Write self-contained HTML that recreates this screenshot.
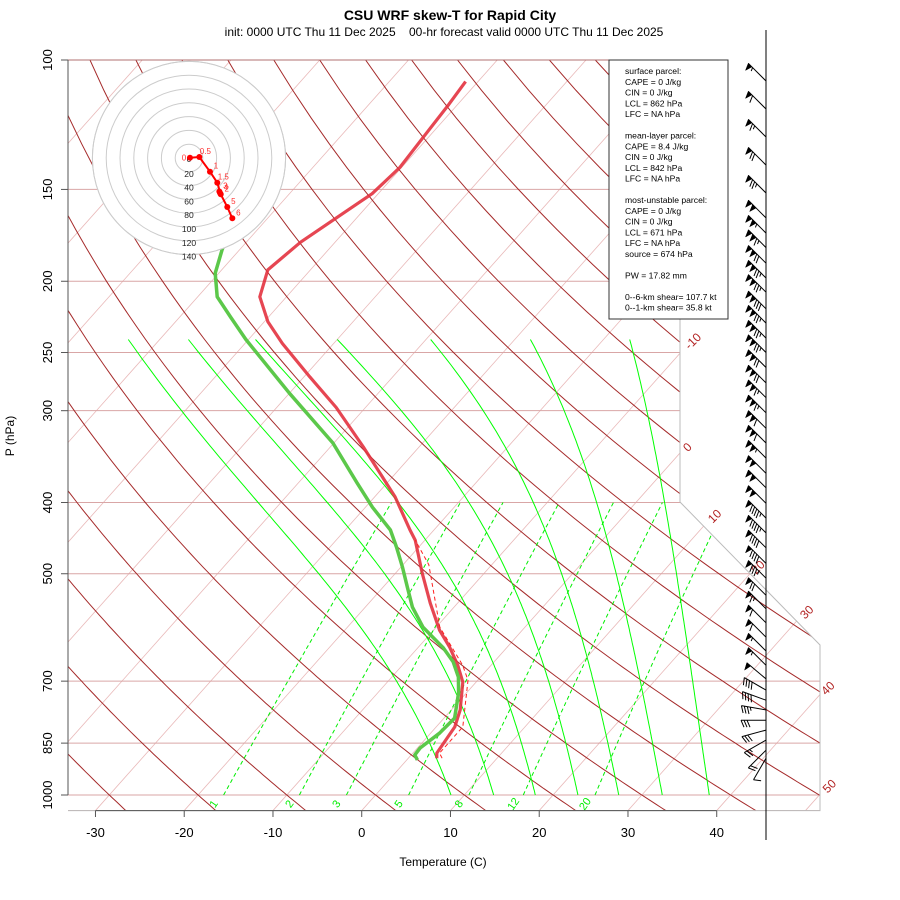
<!DOCTYPE html>
<html><head><meta charset="utf-8"><style>
html,body{margin:0;padding:0;background:#fff;}
svg{display:block;font-family:"Liberation Sans",sans-serif;}
</style></head><body>
<svg id="chart" width="900" height="900" viewBox="0 0 900 900" xmlns="http://www.w3.org/2000/svg">
<defs><clipPath id="frameClip"><polygon points="68,60 680,60 680,502 820,645 820,810.6 68,810.6"/></clipPath></defs>
<text x="450" y="20" text-anchor="middle" font-size="14" font-weight="bold">CSU WRF skew-T for Rapid City</text>
<text x="444" y="36" text-anchor="middle" font-size="12" xml:space="preserve">init: 0000 UTC Thu 11 Dec 2025    00-hr forecast valid 0000 UTC Thu 11 Dec 2025</text>
<text transform="translate(14,436) rotate(-90)" text-anchor="middle" font-size="12">P (hPa)</text>
<text x="443" y="866" text-anchor="middle" font-size="12">Temperature (C)</text>
<g id="bg" clip-path="url(#frameClip)"></g>
<g id="frame"></g>
<g id="axes"></g>
<g id="profiles" clip-path="url(#frameClip)"></g>
<g id="hodo"></g>
<g id="barbs"></g>
<g id="info"></g>
</svg>
<script>
const tempP=[891,877,808,766,702,666,629,597,548,499,450,436,393,336,297,270,243,227,210,193,177,164,152,140,127,115,107];
const tempT=[3.2,2.7,2.1,1.0,-1.5,-3.75,-6.5,-9.3,-13.1,-17.0,-21.1,-22.7,-27.7,-36.3,-43.3,-49.3,-55.8,-59.6,-63.0,-64.8,-63.9,-62.3,-60.7,-60.2,-60.6,-61.0,-61.4];
const dewP=[896,882,863,824,786,726,691,659,631,591,555,521,490,460,436,406,376,332,284,240,224,210,195,181,170];
const dewT=[1.2,0.4,0.3,1.0,1.2,-0.9,-2.5,-4.6,-7.1,-11.5,-14.7,-17.3,-19.8,-22.5,-24.9,-29.2,-33.4,-40.1,-50.0,-60.3,-64.2,-67.8,-70.4,-72.0,-73.0];
const parcelP=[891,877,808,698,666,591,486,450];
const parcelT=[3.8,3.0,3.0,-1.1,-3.2,-9.6,-17.1,-21.1];
const hodoLabels=["0","0.5","1","1.5","2","3","4","5","6"];
const hodoU=[1.4,15,30.4,41,46,44,45,55.5,62.8];
const hodoV=[0.4,1.4,-19.9,-35.8,-52.6,-48.6,-50.7,-71,-87.4];
const hodoRings=[20,40,60,80,100,120,140];
const barbP=[106.8,116.6,127.3,139,151.7,164,172,180,189,198,207,218,228,239,250,262,275,288,302,317,332,348,365,382,401,420,440,461,484,507,535,558,583,610,637,666,695,720,743,766,791,816,842,869,891];
const barbSpd=[55,60,65,70,75,100,105,115,120,125,125,130,125,125,125,120,120,115,115,110,110,105,100,100,100,95,95,90,90,85,70,65,60,60,55,55,50,40,40,35,30,30,25,20,10];
const barbDir=[315,315,315,315,315,315,315,315,315,315,315,315,315,315,315,315,315,315,315,315,315,315,315,315,315,315,315,315,315,315,315,315,315,315,315,315,310,300,290,280,270,255,240,225,210];
const pLevels=[100,150,200,250,300,400,500,700,850,1000];
const xTicks=[-30,-20,-10,0,10,20,30,40];
const isoLabelT=[-10,0,10,20,30,40,50];
const mixW=[1,2,3,5,8,12,20];
const moistT0=[8.5,13.3,18,22.8,27.4,32.3,37.6];
const moistFix=[-7,-21,-42,-69,-93,-113,-120];
const infoLines=["surface parcel:","CAPE = 0 J/kg","CIN = 0 J/kg","LCL = 862 hPa","LFC = NA hPa","","mean-layer parcel:","CAPE = 8.4 J/kg","CIN = 0 J/kg","LCL = 842 hPa","LFC = NA hPa","","most-unstable parcel:","CAPE = 0 J/kg","CIN = 0 J/kg","LCL = 671 hPa","LFC = NA hPa","source = 674 hPa","","PW =  17.82 mm","","0--6-km shear= 107.7 kt","0--1-km shear= 35.8 kt"];

const NS="http://www.w3.org/2000/svg";
function Y(p){return 60+735*Math.log10(p/100);}
function X(T,p){return 361.7+8.875*T+0.89*(810.6-Y(p));}
function mk(parent,tag,attrs){const e=document.createElementNS(NS,tag);for(const k in attrs)e.setAttribute(k,attrs[k]);parent.appendChild(e);return e;}
function pathFrom(pts){return pts.map((q,i)=>(i?'L':'M')+q[0].toFixed(1)+','+q[1].toFixed(1)).join('');}
const bgG=document.getElementById('bg');
for(let T=-110;T<=50;T+=10){
  const e=mk(bgG,'line',{x1:X(T,1050),y1:Y(1050),x2:X(T,100),y2:Y(100),stroke:'#e9b9b9','stroke-width':0.8});
  
  
}
pLevels.concat([1050]).forEach(p=>{
  const e=mk(bgG,'line',{x1:68,y1:Y(p),x2:820,y2:Y(p),stroke:'#d9a6a6','stroke-width':1});
  
  
});
for(let th=-30;th<=170;th+=10){
  const pts=[];for(let p=1050;p>=100;p-=10){pts.push([X((th+273.15)*Math.pow(p/1000,0.286)-273.15,p),Y(p)]);}
  const e=mk(bgG,'path',{d:pathFrom(pts),fill:'none',stroke:'#a52a2a','stroke-width':1});
  
  
}
function es(Tc){return 6.112*Math.exp(17.67*Tc/(Tc+243.5));}
moistT0.forEach((t0,k)=>{
  let T=t0+273.15;const pts=[];
  for(let p=1000;p>=240;p-=5){
    const y=Y(p);
    pts.push([X(T-273.15,p)+moistFix[k]*(795-y)/455,y]);
    const e0=es(T-273.15),rs=0.622*e0/(p-e0);
    const b=(287*T+2.5e6*rs)/(1005+(2.5e6*2.5e6*rs*0.622)/(287*T*T));
    T-=b/p*5;
  }
  const e=mk(bgG,'path',{d:pathFrom(pts),fill:'none',stroke:'#00ff00','stroke-width':1});
  
  
});
function tdFromW(w,p){const e=w*p/(622+w);const l=Math.log(e/6.112);return 243.5*l/(17.67-l);}
mixW.forEach(w=>{
  const pts=[];for(let p=1000;p>=400;p-=10)pts.push([X(tdFromW(w,p),p),Y(p)]);
  const e=mk(bgG,'path',{d:pathFrom(pts),fill:'none',stroke:'#00ee00','stroke-width':1,'stroke-dasharray':'4,3'});
  
  
});
const frG=document.getElementById('frame');
const fe=mk(frG,'polyline',{points:'680,60 680,502 820,645 820,810.6 68,810.6',fill:'none',stroke:'#bbbbbb','stroke-width':1});


const topLine=mk(frG,'line',{x1:68,y1:60,x2:680,y2:60,stroke:'#b07070','stroke-width':1});


mixW.forEach(w=>{
  const x=X(tdFromW(w,1000),1000)-7;
  const t=mk(frG,'text',{x:0,y:0,transform:`translate(${x.toFixed(1)},806) rotate(-55)`,'text-anchor':'middle','font-size':11,fill:'#00ee00'});
  t.textContent=w;
  
  
});
const labY={"-10":340,"0":446,"10":515,"20":566,"30":611,"40":687,"50":785};
isoLabelT.forEach(T=>{
  const yy=labY[T];const p=100*Math.pow(10,(yy-60)/735);const x=X(T,p)+4;
  const t=mk(frG,'text',{x:0,y:0,transform:`translate(${x.toFixed(1)},${yy+4}) rotate(-45)`,'text-anchor':'middle','font-size':12,fill:'#b22222'});
  t.textContent=T;
  
  
});
const axG=document.getElementById('axes');
const la=mk(axG,'line',{x1:68,y1:60,x2:68,y2:795,stroke:'#555','stroke-width':1});


pLevels.forEach(p=>{
  const y=Y(p);
  const tk=mk(axG,'line',{x1:61,y1:y,x2:68,y2:y,stroke:'#555'});
  
  
  const t=mk(axG,'text',{x:0,y:0,transform:`translate(52,${y.toFixed(1)}) rotate(-90)`,'text-anchor':'middle','font-size':13});
  t.textContent=p;
  
  
});
const ba=mk(axG,'line',{x1:X(xTicks[0],1050),y1:810.6,x2:X(xTicks[xTicks.length-1],1050),y2:810.6,stroke:'#555'});


xTicks.forEach(T=>{
  const x=X(T,1050);
  const tk=mk(axG,'line',{x1:x,y1:810.6,x2:x,y2:817,stroke:'#555'});
  
  
  const t=mk(axG,'text',{x:x,y:837,'text-anchor':'middle','font-size':13});
  t.textContent=T;
  
  
});
const prG=document.getElementById('profiles');
const tl=mk(prG,'path',{d:pathFrom(tempP.map((p,i)=>[X(tempT[i],p),Y(p)])),fill:'none',stroke:'#e3323f','stroke-width':3.2,'stroke-linejoin':'round','stroke-opacity':0.9});


const dl=mk(prG,'path',{d:pathFrom(dewP.map((p,i)=>[X(dewT[i],p),Y(p)])),fill:'none',stroke:'#5cc84a','stroke-width':3.5,'stroke-linejoin':'round'});


const pl=mk(prG,'path',{d:pathFrom(parcelP.map((p,i)=>[X(parcelT[i],p),Y(p)])),fill:'none',stroke:'#ff2020','stroke-width':1,'stroke-dasharray':'4,3'});


const hgG=document.getElementById('hodo');
const hcx=189,hcy=158,hs=0.69;
const bgc=mk(hgG,'circle',{cx:hcx,cy:hcy,r:140*hs,fill:'#fff',stroke:'#cccccc'});


hodoRings.forEach(rr=>{
  const c=mk(hgG,'circle',{cx:hcx,cy:hcy,r:rr*hs,fill:'none',stroke:'#cccccc','stroke-width':1});
  
  
  const t=mk(hgG,'text',{x:hcx,y:hcy+rr*hs+5,'text-anchor':'middle','font-size':8.5,fill:'#222'});
  t.textContent=rr;
  
  
});
const zl=mk(hgG,'text',{x:hcx,y:hcy+4,'text-anchor':'middle','font-size':8.5,fill:'#222'});zl.textContent='0';


const hp=hodoU.map((u,i)=>[hcx+u*hs,hcy-hodoV[i]*hs]);
const hl=mk(hgG,'path',{d:pathFrom(hp),fill:'none',stroke:'#ff0000','stroke-width':2});


hp.forEach((q,i)=>{
  const c=mk(hgG,'circle',{cx:q[0],cy:q[1],r:3,fill:'#ff0000'});
  
  
  const t=mk(hgG,'text',{x:q[0]+(i===0?-6:6),y:q[1]-(i===0?-3:3),'text-anchor':'middle','font-size':8,fill:'#ff3030'});
  t.textContent=hodoLabels[i];
  
  
});
const bbG=document.getElementById('barbs');
const staffLine=mk(bbG,'line',{x1:766,y1:30,x2:766,y2:840,stroke:'#000','stroke-width':1});


barbP.forEach((p,i)=>{
  const g=mk(bbG,'g',{});
  
  
  const d=barbDir[i]*Math.PI/180,ux=Math.sin(d),uy=-Math.cos(d),nx=uy,ny=-ux;
  const bx=766,by=Y(p),L=25;
  let d2='M'+bx+','+by.toFixed(1)+'L'+(bx+L*ux).toFixed(1)+','+(by+L*uy).toFixed(1);
  let s=Math.round(barbSpd[i]/5)*5,pos=L;let fillD='';
  while(s>=50){const ax1=bx+pos*ux,ay1=by+pos*uy,ax2=bx+(pos-5)*ux,ay2=by+(pos-5)*uy,tx=ax1+7*nx-3*ux,ty=ay1+7*ny-3*uy;
    fillD+=`M${ax1.toFixed(1)},${ay1.toFixed(1)}L${tx.toFixed(1)},${ty.toFixed(1)}L${ax2.toFixed(1)},${ay2.toFixed(1)}Z`;pos-=6;s-=50;}
  while(s>=10){const ax1=bx+pos*ux,ay1=by+pos*uy;d2+=`M${ax1.toFixed(1)},${ay1.toFixed(1)}l${(7*nx-3*ux).toFixed(1)},${(7*ny-3*uy).toFixed(1)}`;pos-=3;s-=10;}
  if(s>=5){const ax1=bx+pos*ux,ay1=by+pos*uy;d2+=`M${ax1.toFixed(1)},${ay1.toFixed(1)}l${(3.5*nx-1.5*ux).toFixed(1)},${(3.5*ny-1.5*uy).toFixed(1)}`;}
  mk(g,'path',{d:d2,fill:'none',stroke:'#000','stroke-width':1});
  if(fillD)mk(g,'path',{d:fillD,fill:'#000',stroke:'#000','stroke-width':0.5});
});
const ibG=document.getElementById('info');
const rect=mk(ibG,'rect',{x:609,y:60,width:119,height:259,fill:'#fff',stroke:'#333','stroke-width':1});


infoLines.forEach((s,i)=>{
  if(!s)return;
  const t=mk(ibG,'text',{x:625,y:74+i*10.75,'font-size':8.6,fill:'#000'});
  t.textContent=s;
  
  
});
</script>
</body></html>
